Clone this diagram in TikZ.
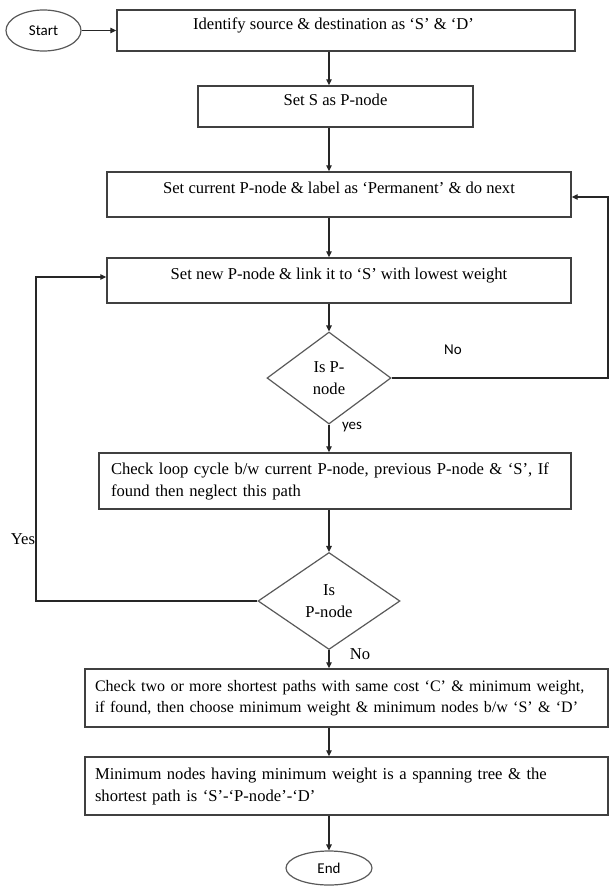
\documentclass[tikz,border=0pt]{standalone}
\usepackage{fontspec}
\setmainfont{Liberation Serif}
\newfontfamily\lblfont{Carlito}
\usetikzlibrary{shapes.geometric,arrows.meta}
\begin{document}
\begin{tikzpicture}[x=1pt,y=-1pt,
  every node/.style={font=\fontsize{16.6}{22}\selectfont},
  line/.style={draw=black!85, line width=1.2pt},
  arr/.style={line, -{Triangle[length=6pt,width=5.5pt]}},
  box/.style={draw=black!75, line width=1.4pt, rectangle, inner sep=0pt, align=center},
  topbox/.style={box, text height=11pt, text depth=13pt},
  leftbox/.style={box, align=left},
  dec/.style={draw=black!65, line width=1.2pt, diamond, inner sep=0pt, align=center},
  term/.style={draw=black!65, line width=1.2pt, ellipse, inner sep=0pt, font=\lblfont\fontsize{15}{18}\selectfont},
  lbl/.style={font=\lblfont\fontsize{15}{18}\selectfont, inner sep=0pt},
  slbl/.style={inner sep=0pt}
]
\useasboundingbox (0,0) rectangle (609,886);
\coordinate (ax) at (329,0);
% nodes
\node[term, minimum width=75pt, minimum height=41pt] (st) at (43.5,30.5) {Start};
\node[topbox, minimum width=458pt, minimum height=41pt] (b1) at (346,30.5) {\hspace*{-25pt}Identify source \& destination as ‘S’ \& ‘D’};
\node[topbox, minimum width=275pt, minimum height=41pt] (b2) at (335.5,106.5) {Set S as P-node};
\node[topbox, minimum width=464pt, minimum height=45pt] (b3) at (339,194.5) {Set current P-node \& label as ‘Permanent’ \& do next};
\node[topbox, minimum width=464pt, minimum height=45pt] (b4) at (339,280.5) {Set new P-node \& link it to ‘S’ with lowest weight};
\node[dec, minimum width=124pt, minimum height=92pt] (d1) at (329,378) {Is P-\\node};
\node[leftbox, minimum height=56pt, text width=448pt, inner xsep=12pt] (b5) at (335,481) {Check loop cycle b/w current P-node, previous P-node \& ‘S’, If\\found then neglect this path};
\node[dec, minimum width=142pt, minimum height=97pt] (d2) at (329,601) {Is\\P-node};
\node[leftbox, minimum height=58pt, text width=503pt, inner xsep=10pt, font=\fontsize{16}{21}\selectfont] (b6) at (346.5,698) {Check two or more shortest paths with same cost ‘C’ \& minimum weight,\\if found, then choose minimum weight \& minimum nodes b/w ‘S’ \& ‘D’};
\node[leftbox, minimum height=58pt, text width=503pt, inner xsep=10pt] (b7) at (346.5,786) {Minimum nodes having minimum weight is a spanning tree \& the\\shortest path is ‘S’-‘P-node’-‘D’};
\node[term, minimum width=86pt, minimum height=34pt] (en) at (329,868) {End};
% connectors
\draw[arr] (st) -- (b1);
\draw[arr] (b1.south -| ax) -- (b2.north -| ax);
\draw[arr] (b2.south -| ax) -- (b3.north -| ax);
\draw[arr] (b3.south -| ax) -- (b4.north -| ax);
\draw[arr] (b4.south -| ax) -- (d1.north);
\draw[arr] (d1.south) -- (b5.north -| ax);
\draw[arr] (b5.south -| ax) -- (d2.north);
\draw[arr] (d2.south) -- (b6.north -| ax);
\draw[arr] (b6.south -| ax) -- (b7.north -| ax);
\draw[arr] (b7.south -| ax) -- (en.north);
\coordinate (rr) at (608,197);
\draw[arr] (d1.east) -| (rr) -- (b3.east |- rr);
\coordinate (ll) at (36,277);
\draw[arr] (d2.west) -| (ll) -- (b4.west |- ll);
% labels
\node[lbl] (lno1) at (453,350) {No};
\node[lbl] (lyes1) at (352,427) {yes};
\node[slbl] (lyes2) at (23,539) {Yes};
\node[slbl] (lno2) at (360,654) {No};
\end{tikzpicture}
\end{document}
